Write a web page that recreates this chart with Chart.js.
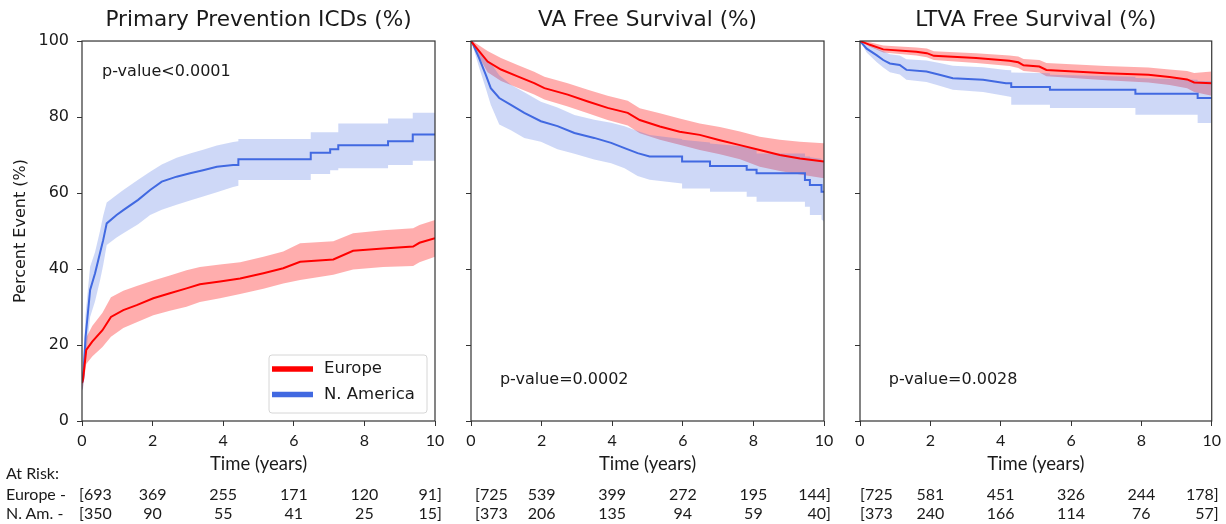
<!DOCTYPE html>
<html>
<head>
<meta charset="utf-8">
<script src="https://cdn.jsdelivr.net/npm/chart.js@4.4.1/dist/chart.umd.min.js"></script>
<style>
html, body { margin:0; padding:0; background:#fff; }
body { width:1226px; height:524px; position:relative; overflow:hidden; }
.pane { position:absolute; top:0; height:475px; }
.risk { position:absolute; font:16px Lato, sans-serif; color:#1a1a1a; white-space:nowrap; line-height:16px; }
</style>
</head>
<body>
<div class="pane" style="left:0;width:450px"><canvas id="c1" width="450" height="475"></canvas></div>
<div class="pane" style="left:450px;width:390px"><canvas id="c2" width="390" height="475"></canvas></div>
<div class="pane" style="left:840px;width:386px"><canvas id="c3" width="386" height="475"></canvas></div>
<div id="risk"></div>
<script>
'use strict';
// ---- data (repeated times mark a step) ----
var xTicks = [0, 2, 4, 6, 8, 10];
var groups = ['Europe', 'N. America'];

// Primary prevention ICDs (% event)
var ppEuT  = [0, 0.03, 0.12, 0.29, 0.58, 0.82, 1.17, 1.55, 2.02, 2.49, 2.96, 3.34, 3.91, 4.48, 5.14, 5.7, 6.18, 7.12, 7.68, 8.53, 9.38, 9.56, 10];
var ppEuY  = [10, 11, 18.7, 20.9, 23.9, 27.4, 29.2, 30.5, 32.3, 33.6, 34.9, 36, 36.7, 37.5, 38.9, 40.2, 41.9, 42.5, 44.8, 45.4, 45.9, 46.9, 48.1];
var ppEuLo = [8, 9, 15, 17, 19.5, 22.2, 24.5, 26, 27.8, 29, 30.1, 31.3, 32.3, 33.4, 34.8, 36.2, 37.1, 38.5, 39.9, 40.5, 40.8, 41.8, 43.2];
var ppEuHi = [12, 13.5, 22, 25, 28.5, 32.6, 34.3, 35.5, 37, 38.3, 39.7, 40.5, 41.2, 41.8, 43.2, 44.6, 46.8, 47.3, 49.4, 50.2, 50.7, 51.6, 52.9];
var ppNaT  = [0, 0.03, 0.1, 0.23, 0.37, 0.51, 0.6, 0.7, 0.98, 1.17, 1.59, 1.93, 2.26, 2.68, 3.06, 3.43, 3.82, 4.28, 4.43, 4.43, 6.48, 6.48, 7.03, 7.03, 7.26, 7.26, 8.67, 8.67, 9.37, 9.37, 10];
var ppNaY  = [10, 10.8, 22, 34.5, 38.9, 44.2, 47.6, 52, 54.2, 55.5, 58.2, 60.8, 63, 64.3, 65.2, 66, 66.9, 67.4, 67.4, 68.9, 68.9, 70.6, 70.6, 71.5, 71.5, 72.6, 72.6, 73.6, 73.6, 75.4, 75.4];
var ppNaLo = [8, 8.5, 16, 27.4, 31.5, 37, 41, 46.3, 48.3, 49.4, 51.8, 54.2, 55.6, 56.9, 58, 59.1, 60.2, 61.6, 61.9, 63.4, 63.4, 65, 65, 66, 66, 66.5, 66.5, 67.4, 67.4, 68.5, 68.5];
var ppNaHi = [12, 13, 28, 40.6, 44.5, 50, 54, 57.5, 59.5, 60.8, 63.5, 65.6, 67.5, 69.3, 70.4, 71.4, 72.5, 73.4, 73.6, 74.2, 74.2, 76, 76, 76, 76, 78.3, 78.3, 79.6, 79.6, 81.1, 81.1];

// VA free survival (%)
var vaEuT  = [0, 0.04, 0.47, 0.85, 1.32, 1.79, 2.08, 2.74, 3.31, 3.87, 4.44, 4.78, 5.35, 5.91, 6.48, 7.05, 7.62, 8.18, 8.75, 9.32, 10];
var vaEuY  = [100, 99.5, 94.6, 92.5, 90.7, 88.9, 87.6, 85.9, 84.1, 82.4, 81.1, 79.2, 77.5, 76.1, 75.3, 73.9, 72.6, 71.3, 70, 69.1, 68.3];
var vaEuLo = [100, 98.8, 91.8, 89.5, 87.7, 85.9, 84.6, 82.8, 81, 79.2, 77.8, 75.7, 74, 72.7, 71.3, 70.2, 68.9, 66.9, 65.8, 64.9, 63.9];
var vaEuHi = [100, 100, 97.4, 95.5, 93.7, 91.9, 90.6, 88.9, 87.2, 85.6, 84.3, 82.3, 81, 79.6, 78.3, 77.4, 76.2, 74.8, 74, 73.5, 73.1];
var vaNaT  = [0, 0.04, 0.23, 0.42, 0.56, 0.8, 1.13, 1.51, 1.98, 2.45, 2.93, 3.49, 3.97, 4.35, 4.72, 5.06, 5.98, 5.98, 6.77, 6.77, 7.81, 7.81, 8.09, 8.09, 9.46, 9.46, 9.6, 9.6, 9.93, 9.93, 10];
var vaNaY  = [100, 99.5, 95.5, 91.1, 87.6, 85, 83.2, 81.1, 78.9, 77.6, 75.8, 74.5, 73.2, 71.8, 70.5, 69.6, 69.6, 68.3, 68.3, 67.1, 67.1, 66.1, 66.1, 65.2, 65.2, 63.4, 63.4, 62.1, 62.1, 60.3, 60.3];
var vaNaLo = [100, 99, 93, 87.5, 83.2, 78, 76.5, 74.5, 73.5, 71.5, 70.3, 68.8, 67.8, 66.5, 64.5, 63.5, 62.5, 61.2, 61.2, 60.3, 60.3, 59, 59, 57.7, 57.7, 56.4, 56.4, 54.2, 54.2, 53, 52.5];
var vaNaHi = [100, 100, 97.5, 95.5, 94.2, 91, 88.5, 86.5, 84, 82.5, 80.5, 79.3, 78.5, 77.6, 76.3, 75.3, 74.2, 74, 73.3, 73, 72.2, 72, 71.5, 70.4, 70.4, 69.6, 69.6, 69.4, 69, 68.5, 68.5];

// LTVA free survival (%)
var ltEuT  = [0, 0.28, 0.66, 1.6, 1.9, 2.1, 3.3, 4.25, 4.5, 4.65, 5.1, 5.3, 7.0, 8.2, 8.8, 9.3, 9.5, 10];
var ltEuY  = [100, 99, 97.8, 97.2, 96.8, 96.1, 95.5, 94.8, 94.4, 93.6, 93.3, 92.4, 91.5, 91.1, 90.5, 89.9, 89.1, 88.9];
var ltEuLo = [100, 98.5, 97, 96.2, 95.7, 95, 94.2, 93.4, 92.9, 92.1, 91.7, 90.7, 89.7, 89.1, 88.4, 87.6, 86.6, 85.6];
var ltEuHi = [100, 99.7, 98.8, 98.3, 98, 97.3, 96.8, 96.2, 95.9, 95.3, 95, 94.2, 93.4, 93, 92.5, 92.1, 91.6, 92];
var ltNaT  = [0, 0.19, 0.47, 0.66, 0.85, 1.13, 1.32, 1.89, 2.26, 2.64, 3.5, 4.15, 4.3, 4.3, 5.4, 5.4, 7.83, 7.83, 9.6, 9.6, 10];
var ltNaY  = [100, 98, 96.3, 95, 94.1, 93.7, 92.4, 92, 91.1, 90.2, 89.8, 88.9, 88.9, 87.9, 87.9, 87.2, 87.2, 86.1, 86.1, 85, 85];
var ltNaLo = [100, 97, 94.5, 93, 91.8, 91.2, 89.8, 89.2, 88.2, 87.2, 86.6, 85.5, 85.3, 83.2, 83.2, 82.4, 82.4, 80.6, 80.6, 78.4, 78.4];
var ltNaHi = [100, 99, 98, 97.3, 96.5, 96.2, 95.2, 94.9, 94.2, 93.5, 93.1, 92.4, 92.3, 91.7, 91.5, 91.1, 90.6, 90.3, 89.8, 89.5, 89.5];

// at-risk counts
var ppRiskEu = [693, 369, 255, 171, 120, 91];
var ppRiskNa = [350, 90, 55, 41, 25, 15];
var vaRiskEu = [725, 539, 399, 272, 195, 144];
var vaRiskNa = [373, 206, 135, 94, 59, 40];
var ltRiskEu = [725, 581, 451, 326, 244, 178];
var ltRiskNa = [373, 240, 166, 114, 76, 57];

var RED = '#ff0000', BLUE = '#4169e1';
var RED_BAND = 'rgba(255,0,0,0.32)', BLUE_BAND = 'rgba(65,105,225,0.26)';
var DJ = "'DejaVu Sans', sans-serif";
var INK = '#1a1a1a', AXIS = '#333';

function pts(t, v) { return t.map(function(x, i) { return {x: x, y: v[i]}; }); }

function series(euT, euY, euLo, euHi, naT, naY, naLo, naHi) {
  var line = function(lbl, c, t, v) { return {label:lbl, data:pts(t, v), borderColor:c, borderWidth:2, pointRadius:0, tension:0, fill:false, inLegend:true}; };
  var edge = function(t, v) { return {label:'', data:pts(t, v), borderWidth:0, borderColor:'transparent', pointRadius:0, tension:0, fill:false}; };
  var naL = edge(naT, naLo); naL.fill = '-1'; naL.backgroundColor = BLUE_BAND;
  var euL = edge(euT, euLo); euL.fill = '-1'; euL.backgroundColor = RED_BAND;
  return [line(groups[0], RED, euT, euY), line(groups[1], BLUE, naT, naY),
          edge(naT, naHi), naL, edge(euT, euHi), euL];
}

// frame, p-value text and inner legend
var extras = {
  id: 'extras',
  afterDraw: function(chart, args, o) {
    var ctx = chart.ctx, a = chart.chartArea;
    ctx.save();
    ctx.strokeStyle = AXIS; ctx.lineWidth = 1.2;
    ctx.strokeRect(a.left, a.top, a.right - a.left, a.bottom - a.top);
    ctx.fillStyle = INK; ctx.font = '16px ' + DJ; ctx.textBaseline = 'middle'; ctx.textAlign = 'left';
    ctx.fillText(o.p, chart.scales.x.getPixelForValue(o.px), chart.scales.y.getPixelForValue(o.py));
    if (o.legend) {
      var items = chart.data.datasets.filter(function(d) { return d.inLegend; });
      var w = 158, h = 58, x0 = a.right - 8 - w, y0 = a.bottom - 8 - h;
      ctx.beginPath();
      if (ctx.roundRect) ctx.roundRect(x0, y0, w, h, 3); else ctx.rect(x0, y0, w, h);
      ctx.fillStyle = 'rgba(255,255,255,0.85)'; ctx.fill();
      ctx.strokeStyle = '#d6d6d6'; ctx.lineWidth = 1; ctx.stroke();
      items.forEach(function(d, i) {
        var y = y0 + 14 + i * 25.5;
        ctx.strokeStyle = d.borderColor; ctx.lineWidth = 5.5;
        ctx.beginPath(); ctx.moveTo(x0 + 3, y); ctx.lineTo(x0 + 44, y); ctx.stroke();
        ctx.fillStyle = INK; ctx.font = '16.5px ' + DJ; ctx.fillText(d.label, x0 + 55, y);
      });
    }
    ctx.restore();
  }
};

function options(cfg) {
  var tickGrid = {drawOnChartArea:false, drawTicks:true, tickLength:5, color:AXIS, lineWidth:1};
  return {
    responsive:false, animation:false, devicePixelRatio:1,
    layout:{padding:{left:0, right:cfg.padR, top:0, bottom:0}},
    plugins:{
      legend:{display:false}, tooltip:{enabled:false},
      title:{display:true, text:cfg.title, fullSize:false, color:INK,
             font:{family:DJ, size:21.6, weight:'normal', lineHeight:1.2}, padding:{top:7.5, bottom:7.6}},
      extras:{p:cfg.p, px:cfg.px, py:cfg.py, legend:cfg.legend}
    },
    scales:{
      x:{type:'linear', min:0, max:10, border:{display:false}, grid:tickGrid,
         ticks:{stepSize:2, color:INK, padding:5, maxRotation:0, font:{family:'Lato', size:16}},
         title:{display:true, text:'Time (years)', color:INK, font:{family:'Lato', size:18.5, lineHeight:1.2}, padding:{top:0, bottom:0}},
         afterFit:function(s) { s.height = 54; }},
      y:{type:'linear', min:0, max:100, border:{display:false}, grid:tickGrid,
         ticks:{stepSize:20, color:INK, padding:8, font:{family:DJ, size:16},
                callback:function(v) { return cfg.yLabels ? String(v) : ''; }},
         title:{display:!!cfg.yLabels, text:'Percent Event (%)', color:INK, font:{family:DJ, size:16, lineHeight:1.2}, padding:{top:11}},
         afterFit:function(s) { s.width = cfg.yW; }}
    }
  };
}

var panels = [
  {id:'c1', left:0, title:'Primary Prevention ICDs (%)', yLabels:true, yW:82, padR:15, p:'p-value<0.0001', px:0.57, py:91.8, legend:true,
   ds:series(ppEuT, ppEuY, ppEuLo, ppEuHi, ppNaT, ppNaY, ppNaLo, ppNaHi), risk:[ppRiskEu, ppRiskNa], firstOff:-3},
  {id:'c2', left:450, title:'VA Free Survival (%)', yLabels:false, yW:21, padR:16, p:'p-value=0.0002', px:0.82, py:10.8, legend:false,
   ds:series(vaEuT, vaEuY, vaEuLo, vaEuHi, vaNaT, vaNaY, vaNaLo, vaNaHi), risk:[vaRiskEu, vaRiskNa], firstOff:4},
  {id:'c3', left:840, title:'LTVA Free Survival (%)', yLabels:false, yW:20, padR:13, p:'p-value=0.0028', px:0.82, py:10.8, legend:false,
   ds:series(ltEuT, ltEuY, ltEuLo, ltEuHi, ltNaT, ltNaY, ltNaLo, ltNaHi), risk:[ltRiskEu, ltRiskNa], firstOff:0}
];

var riskBox = document.getElementById('risk');
function addText(txt, x, top, align) {
  var d = document.createElement('div');
  d.className = 'risk'; d.textContent = txt; d.style.top = top + 'px';
  if (align === 'center') { d.style.left = x + 'px'; d.style.transform = 'translateX(-50%)'; }
  else if (align === 'right') { d.style.right = (1226 - x) + 'px'; }
  else d.style.left = x + 'px';
  riskBox.appendChild(d);
}

var rowTops = [486, 505];
addText('At Risk:', 6, 465, 'left');
addText('Europe -', 6, rowTops[0], 'left');
addText('N. Am. -', 6, rowTops[1], 'left');

panels.forEach(function(p) {
  var chart = new Chart(document.getElementById(p.id), {type:'line', data:{datasets:p.ds}, options:options(p), plugins:[extras]});
  p.risk.forEach(function(row, r) {
    row.forEach(function(n, i) {
      var x = p.left + chart.scales.x.getPixelForValue(xTicks[i]);
      if (i === 0) addText('[' + n, x + p.firstOff, rowTops[r], 'left');
      else if (i === row.length - 1) addText(n + ']', x + 7, rowTops[r], 'right');
      else addText(String(n), x, rowTops[r], 'center');
    });
  });
});
</script>
</body>
</html>
